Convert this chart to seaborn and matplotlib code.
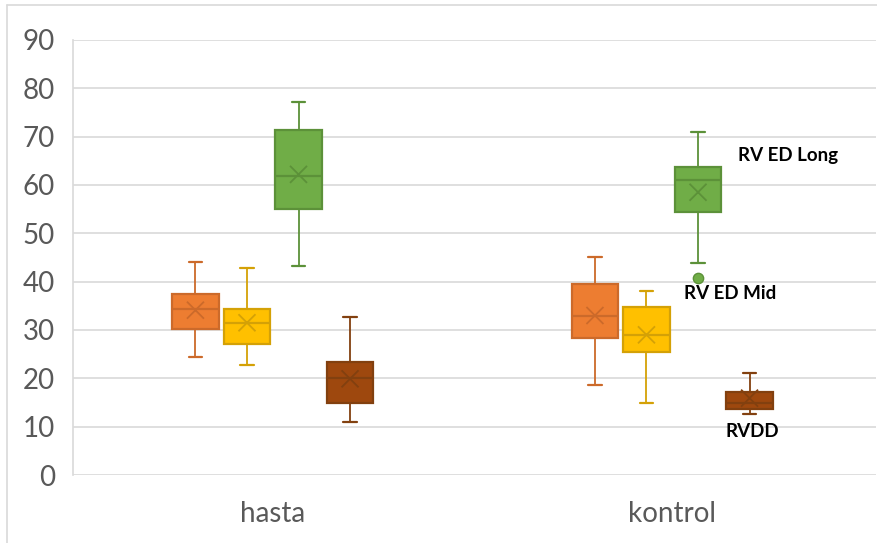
import matplotlib
matplotlib.use("Agg")
import matplotlib.pyplot as plt
import seaborn as sns
import pandas as pd
from matplotlib.lines import Line2D

# groups and series
groups = ["hasta", "kontrol"]
series = ["seri1", "RV ED Mid", "RV ED Long", "RVDD"]

# five-number summaries per series (hasta, kontrol)
whislo = {"seri1": [24.5, 18.6], "RV ED Mid": [22.7, 14.8], "RV ED Long": [43.2, 43.9], "RVDD": [11.0, 12.6]}
q1 = {"seri1": [30.3, 28.3], "RV ED Mid": [27.1, 25.4], "RV ED Long": [55.1, 54.4], "RVDD": [14.8, 13.7]}
med = {"seri1": [34.3, 33.0], "RV ED Mid": [31.4, 29.0], "RV ED Long": [61.9, 61.0], "RVDD": [20.0, 15.0]}
q3 = {"seri1": [37.4, 39.5], "RV ED Mid": [34.4, 34.8], "RV ED Long": [71.4, 63.7], "RVDD": [23.4, 17.2]}
whishi = {"seri1": [44.1, 45.2], "RV ED Mid": [42.9, 38.0], "RV ED Long": [77.2, 71.0], "RVDD": [32.7, 21.2]}
means = {"seri1": [34.1, 33.0], "RV ED Mid": [31.5, 29.0], "RV ED Long": [62.2, 58.5], "RVDD": [19.9, 15.9]}
fliers = {"seri1": [[], []], "RV ED Mid": [[], []], "RV ED Long": [[], [40.7]], "RVDD": [[], []]}

# label texts and where they sit (group index offset, value)
label_texts = ["RV ED Long", "RV ED Mid", "RVDD"]
label_x = [1.29, 1.145, 1.20]
label_y = [66.2, 37.6, 9.0]

face = ["#ED7D31", "#FFC000", "#70AD47", "#9E480E"]
edge = ["#CC6A2A", "#D4A106", "#5C9139", "#82400F"]

sns.set_theme(style="white")
plt.rcParams["font.family"] = ["Lato", "DejaVu Sans"]

fig = plt.figure(figsize=(8.77, 5.43), dpi=100)
ax = fig.add_axes([73 / 877, (543 - 475) / 543, (876 - 73) / 877, (475 - 40) / 543])

step = 0.129
width = 0.117
rows = []
for i, s in enumerate(series):
    stats = []
    pos = []
    for g in range(len(groups)):
        stats.append(dict(whislo=whislo[s][g], q1=q1[s][g], med=med[s][g],
                          q3=q3[s][g], whishi=whishi[s][g], mean=means[s][g],
                          fliers=fliers[s][g]))
        pos.append(g + (i - 1.5) * step)
        rows.append(dict(x=g + (i - 1.5) * step, mean=means[s][g], s=s))
    ax.bxp(stats, positions=pos, widths=width, capwidths=0.034,
           showfliers=False, showmeans=False, patch_artist=True,
           boxprops=dict(facecolor=face[i], edgecolor=edge[i], linewidth=1.6),
           medianprops=dict(color=edge[i], linewidth=1.6),
           whiskerprops=dict(color=edge[i], linewidth=1.3),
           capprops=dict(color=edge[i], linewidth=1.6))
    fl = [(g + (i - 1.5) * step, v) for g in range(len(groups)) for v in fliers[s][g]]
    if fl:
        fdf = pd.DataFrame(fl, columns=["x", "y"])
        sns.scatterplot(data=fdf, x="x", y="y", ax=ax, color=face[i], edgecolor=edge[i],
                        s=55, linewidth=1, zorder=5)

mdf = pd.DataFrame(rows)
sns.scatterplot(data=mdf, x="x", y="mean", hue="s", palette=dict(zip(series, edge)),
                marker="x", s=150, linewidth=1.3, ax=ax, legend=False, zorder=6)

for t, x, y in zip(label_texts, label_x, label_y):
    ax.text(x, y, t, ha="center", va="center", fontsize=13.5, fontweight="bold", color="black")

ax.set_xlim(-0.5, 1.51)
ax.set_ylim(0, 90)
ax.set_yticks(range(0, 91, 10))
ax.set_xticks([0, 1])
ax.set_xticklabels(groups)
ax.set_xlabel("")
ax.set_ylabel("")
ax.yaxis.grid(True, color="#D9D9D9", linewidth=1.2)
ax.set_axisbelow(True)
ax.tick_params(axis="y", length=0, pad=13, labelsize=20, labelcolor="#595959")
ax.tick_params(axis="x", length=0, pad=19, labelsize=20, labelcolor="#595959")
for side in ["top", "right", "bottom"]:
    ax.spines[side].set_visible(False)
ax.spines["left"].set_color("#D9D9D9")
ax.spines["left"].set_linewidth(1.2)

# outer chart border (cropped on the right and bottom)
fig.add_artist(Line2D([7 / 877, 7 / 877], [0, 1 - 5 / 543], color="#D9D9D9", linewidth=1.2))
fig.add_artist(Line2D([7 / 877, 1], [1 - 5 / 543, 1 - 5 / 543], color="#D9D9D9", linewidth=1.2))

fig.savefig("out.png", dpi=100, facecolor="white")
